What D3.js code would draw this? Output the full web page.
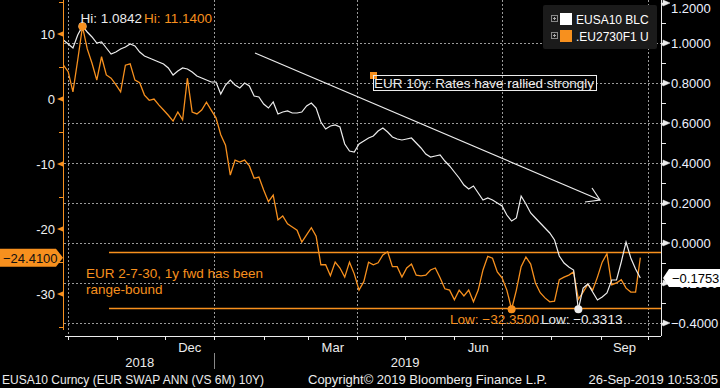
<!DOCTYPE html>
<meta charset="utf-8">
<style>
body { margin: 0; background: #000; }
svg { display: block; background: #000; }
text { font-family: "Liberation Sans", Arial, sans-serif; font-size: 13px; }
.grid { stroke: #9a9a9a; stroke-width: 1px; stroke-dasharray: 2,2; }
.note { font-size: 13.5px; }
.small { font-size: 12px; }
</style>
<svg width="720" height="388"></svg>
<script src="https://d3js.org/d3.v7.min.js"></script>
<script>

// EUSA10 BLC (right axis), one point every 3 days from 28-Sep-2018
var eusa10 = [
  1.015, 0.995, 0.975, 1.04, 1.0842, 1.055, 1.03, 1.00, 1.005, 0.975,
  0.945, 0.955, 0.97, 0.98, 0.995, 0.985, 0.955, 0.935, 0.925, 0.915,
  0.905, 0.895, 0.875, 0.84, 0.86, 0.875, 0.87, 0.855, 0.835, 0.825,
  0.815, 0.805, 0.805, 0.745, 0.79, 0.815, 0.79, 0.775, 0.80, 0.785,
  0.735, 0.73, 0.695, 0.675, 0.705, 0.645, 0.655, 0.66, 0.65, 0.65,
  0.655, 0.685, 0.70, 0.675, 0.605, 0.57, 0.585, 0.59, 0.58, 0.495,
  0.46, 0.455, 0.495, 0.51, 0.525, 0.535, 0.56, 0.575, 0.555, 0.53,
  0.52, 0.515, 0.52, 0.525, 0.50, 0.475, 0.445, 0.43, 0.435, 0.44,
  0.41, 0.385, 0.355, 0.325, 0.29, 0.27, 0.285, 0.25, 0.215, 0.225,
  0.215, 0.20, 0.185, 0.14, 0.11, 0.125, 0.235, 0.195, 0.15, 0.125,
  0.10, 0.075, 0.05, 0.015, -0.065, -0.10, -0.12, -0.135, -0.3313, -0.225,
  -0.205, -0.245, -0.285, -0.27, -0.25, -0.185, -0.185, -0.095, 0.005, -0.075,
  -0.13, -0.1753
];

// .EU2730F1 (left axis, bp)
var eu2730 = [
  5.2, 4.2, 1.1, 6.0, 11.14, 7.7, 5.5, 2.9, 6.5, 3.7,
  3.2, 2.2, 1.1, 5.2, 5.4, 2.9, 2.5, 0.6, -0.2, 0.0,
  -0.9, -1.7, -2.5, -3.4, -2.0, -3.2, 3.2, -2.0, -2.3, -1.7,
  -0.5, -1.7, -2.9, -5.5, -7.1, -11.7, -9.4, -9.7, -9.4, -10.3,
  -12.2, -12.0, -14.0, -15.8, -14.8, -18.6, -18.0, -19.2, -19.7, -20.2,
  -22.0, -20.9, -19.8, -21.1, -25.5, -25.5, -27.2, -25.1, -26.0, -27.4,
  -25.1, -26.9, -29.4, -28.1, -25.1, -25.5, -25.2, -24.0, -23.5, -25.8,
  -25.8, -27.4, -26.0, -25.4, -27.1, -27.2, -27.1, -26.3, -26.0, -27.5,
  -29.2, -29.4, -30.9, -29.4, -30.3, -29.4, -31.2, -29.4, -26.3, -24.2,
  -24.5, -26.6, -27.5, -29.4, -32.35, -29.4, -25.8, -24.3, -25.4, -28.3,
  -29.8, -30.6, -31.2, -31.1, -27.8, -27.4, -27.1, -26.6, -30.8, -29.7,
  -28.5, -29.4, -27.4, -25.1, -23.8, -28.6, -28.3, -27.8, -29.1, -29.7,
  -29.7, -24.41
];

var leftTicks = [10, 0, -10, -20, -30];
var leftMinor = [15, 5, -5, -15, -25, -35];
var rightTicks = [1.2, 1.0, 0.8, 0.6, 0.4, 0.2, 0.0, -0.2, -0.4];
var rightMinor = [1.1, 0.9, 0.7, 0.5, 0.3, 0.1, -0.1, -0.3];
var rangeBand = [-23.5, -32.1];
var monthLabels = ["Dec", "Mar", "Jun", "Sep"];
var yearLabels = ["2018", "2019"];

var orange = "#f7901e", white = "#ececec";

var svg = d3.select("svg"),
    left = 64, right = 661, top = 0, bottom = 336;

var start = new Date(2018, 8, 28);
var dates = eusa10.map(function(d, i) { return d3.timeDay.offset(start, 3 * i); });

var x = d3.scaleTime()
    .domain([new Date(2018, 8, 29), new Date(2019, 9, 9)])
    .range([65, right]);
var yL = d3.scaleLinear().domain([-30, 10]).range([294, 34]);
var yR = d3.scaleLinear().domain([-0.4, 1.2]).range([323, 3]);

// grid
var quarters = d3.timeMonth.every(3).range(new Date(2018, 9, 1), new Date(2019, 9, 2));
svg.selectAll(".vgrid").data(quarters).enter().append("line")
    .attr("class", "grid")
    .attr("x1", function(d) { return Math.round(x(d)) + 0.5; })
    .attr("x2", function(d) { return Math.round(x(d)) + 0.5; })
    .attr("y1", top).attr("y2", bottom);
svg.selectAll(".hgrid").data(rightTicks.filter(function(d) { return d < 1.1; })).enter().append("line")
    .attr("class", "grid")
    .attr("x1", left).attr("x2", right)
    .attr("y1", function(d) { return Math.round(yR(d)) + 0.5; })
    .attr("y2", function(d) { return Math.round(yR(d)) + 0.5; });

// range-bound lines
svg.selectAll(".band").data(rangeBand).enter().append("line")
    .attr("x1", 109).attr("x2", right)
    .attr("y1", function(d) { return Math.round(yL(d)) + 0.5; })
    .attr("y2", function(d) { return Math.round(yL(d)) + 0.5; })
    .attr("stroke", orange).attr("stroke-width", 1.5);

// series
var lineR = d3.line().x(function(d, i) { return x(dates[i]); }).y(function(d) { return yR(d); });
var lineL = d3.line().x(function(d, i) { return x(dates[i]); }).y(function(d) { return yL(d); });

svg.append("path").datum(eu2730)
    .attr("d", lineL).attr("fill", "none").attr("stroke", orange).attr("stroke-width", 1.3);
svg.append("path").datum(eusa10)
    .attr("d", lineR).attr("fill", "none").attr("stroke", white).attr("stroke-width", 1.2);

// hi / low markers
var hiW = d3.maxIndex(eusa10), loW = d3.minIndex(eusa10),
    hiO = d3.maxIndex(eu2730), loO = d3.minIndex(eu2730);
svg.append("circle").attr("cx", x(dates[hiW])).attr("cy", yR(eusa10[hiW])).attr("r", 4).attr("fill", white);
svg.append("circle").attr("cx", x(dates[hiO])).attr("cy", yL(eu2730[hiO])).attr("r", 4).attr("fill", orange);
svg.append("circle").attr("cx", x(dates[loW])).attr("cy", yR(eusa10[loW])).attr("r", 4).attr("fill", white);
svg.append("circle").attr("cx", x(dates[loO])).attr("cy", yL(eu2730[loO])).attr("r", 4).attr("fill", orange);

var hi = svg.append("text").attr("class", "note").attr("x", x(dates[hiW]) - 2).attr("y", 23);
hi.append("tspan").attr("fill", white).text("Hi: " + d3.format(".4f")(eusa10[hiW]));
hi.append("tspan").attr("fill", orange).attr("dx", 2).text("Hi: " + d3.format(".4f")(eu2730[hiO]));

var lo = svg.append("text").attr("class", "note").attr("x", 450).attr("y", 324);
lo.append("tspan").attr("fill", orange).text("Low: " + d3.format(".4f")(eu2730[loO]));
lo.append("tspan").attr("fill", white).attr("dx", 2).text("Low: " + d3.format(".4f")(eusa10[loW]));

// annotations
svg.append("line").attr("x1", 255).attr("y1", 53).attr("x2", 600).attr("y2", 200)
    .attr("stroke", white).attr("stroke-width", 1.2);
svg.append("path").attr("d", "M585,202L600,200L592,188")
    .attr("fill", "none").attr("stroke", white).attr("stroke-width", 1.2);

svg.append("rect").attr("x", 370).attr("y", 72).attr("width", 7).attr("height", 7).attr("fill", orange);
svg.append("rect").attr("x", 373.5).attr("y", 75.5).attr("width", 223).attr("height", 15)
    .attr("fill", "none").attr("stroke", white).attr("stroke-width", 1);
svg.append("text").attr("class", "note").attr("x", 374).attr("y", 88).attr("fill", white)
    .attr("textLength", 220).attr("lengthAdjust", "spacingAndGlyphs")
    .text("EUR 10y: Rates have rallied strongly");

svg.append("text").attr("class", "note").attr("x", 86).attr("y", 278).attr("fill", orange).text("EUR 2-7-30, 1y fwd has been");
svg.append("text").attr("class", "note").attr("x", 86).attr("y", 294).attr("fill", orange).text("range-bound");

// left axis
svg.append("line").attr("x1", left - 0.5).attr("x2", left - 0.5).attr("y1", 0).attr("y2", 330)
    .attr("stroke", orange).attr("stroke-width", 1);
svg.selectAll(".lminor").data(leftMinor).enter().append("line")
    .attr("x1", left - 5).attr("x2", left)
    .attr("y1", function(d) { return Math.round(yL(d)) + 0.5; })
    .attr("y2", function(d) { return Math.round(yL(d)) + 0.5; })
    .attr("stroke", orange);
svg.selectAll(".ltick").data(leftTicks).enter().append("path")
    .attr("d", function(d) { var y = yL(d); return "M" + left + "," + (y - 3) + "L" + (left - 7) + "," + y + "L" + left + "," + (y + 3) + "Z"; })
    .attr("fill", orange);
svg.selectAll(".llabel").data(leftTicks).enter().append("text")
    .attr("x", left - 9).attr("y", function(d) { return yL(d) + 5; })
    .attr("text-anchor", "end").attr("fill", "#f0f0f0")
    .text(function(d) { return d; });

// right axis
svg.append("line").attr("x1", right + 0.5).attr("x2", right + 0.5).attr("y1", 0).attr("y2", bottom)
    .attr("stroke", white);
svg.selectAll(".rminor").data(rightMinor).enter().append("line")
    .attr("x1", right).attr("x2", right + 5)
    .attr("y1", function(d) { return Math.round(yR(d)) + 0.5; })
    .attr("y2", function(d) { return Math.round(yR(d)) + 0.5; })
    .attr("stroke", white);
svg.selectAll(".rtick").data(rightTicks).enter().append("path")
    .attr("d", function(d) { var y = yR(d); return "M" + right + "," + y + "L" + (right + 2) + "," + y + "L" + (right + 2) + "," + (y - 3) + "L" + (right + 9) + "," + y + "L" + (right + 2) + "," + (y + 3) + "Z"; })
    .attr("fill", white).attr("stroke", white).attr("stroke-width", 0.5);
svg.selectAll(".rlabel").data(rightTicks).enter().append("text")
    .attr("x", right + 10).attr("y", function(d) { return Math.max(yR(d) + 5, 13); })
    .attr("fill", "#eef2ff")
    .text(function(d) { return d3.format(".4f")(d); });

// last value tags
var lastR = eusa10[eusa10.length - 1], lastL = eu2730[eu2730.length - 1];
var ty = yR(lastR);
svg.append("path")
    .attr("d", "M" + (right + 2) + "," + ty + "L" + (right + 8) + "," + (ty - 9) + "L720," + (ty - 9) + "L720," + (ty + 9) + "L" + (right + 8) + "," + (ty + 9) + "Z")
    .attr("fill", "#fff");
svg.append("text").attr("x", right + 11).attr("y", ty + 5).attr("fill", "#000")
    .text(d3.format(".4f")(lastR));
var tl = yL(lastL);
svg.append("path")
    .attr("d", "M0," + (tl - 9) + "L56," + (tl - 9) + "L63," + tl + "L56," + (tl + 9) + "L0," + (tl + 9) + "Z")
    .attr("fill", orange);
svg.append("text").attr("x", 3).attr("y", tl + 5).attr("fill", "#111")
    .text(d3.format(".4f")(lastL));

// x axis
svg.append("line").attr("x1", 65).attr("x2", right).attr("y1", bottom + 0.5).attr("y2", bottom + 0.5)
    .attr("stroke", white);
var months = d3.timeMonth.range(new Date(2018, 9, 1), new Date(2019, 9, 2));
svg.selectAll(".xtick").data(months).enter().append("line")
    .attr("x1", function(d) { return Math.round(x(d)) + 0.5; })
    .attr("x2", function(d) { return Math.round(x(d)) + 0.5; })
    .attr("y1", bottom).attr("y2", bottom + 4)
    .attr("stroke", white);
var labelMonths = [new Date(2018, 11, 1), new Date(2019, 2, 1), new Date(2019, 5, 1), new Date(2019, 8, 1)];
svg.selectAll(".xlabel").data(labelMonths).enter().append("text")
    .attr("x", function(d) { return (x(d) + x(d3.timeMonth.offset(d, 1))) / 2; })
    .attr("y", 352).attr("text-anchor", "middle").attr("fill", white)
    .text(function(d, i) { return monthLabels[i]; });
svg.selectAll(".ylabel").data([new Date(2018, 10, 15), new Date(2019, 4, 1)]).enter().append("text")
    .attr("x", function(d) { return x(d); })
    .attr("y", 367).attr("text-anchor", "middle").attr("fill", white)
    .text(function(d, i) { return yearLabels[i]; });
svg.append("line").attr("x1", Math.round(x(new Date(2019, 0, 1))) + 0.5).attr("x2", Math.round(x(new Date(2019, 0, 1))) + 0.5)
    .attr("y1", 353).attr("y2", 369).attr("stroke", "#888");

// legend
var legend = svg.append("g").attr("transform", "translate(543,5)");
legend.append("rect").attr("width", 114).attr("height", 44).attr("rx", 2).attr("fill", "#1b1b1b");
[["EUSA10 BLC", "#fff"], [".EU2730F1 U", orange]].forEach(function(d, i) {
  var g = legend.append("g").attr("transform", "translate(0," + (9 + i * 17) + ")");
  g.append("rect").attr("x", 8.5).attr("y", 1.5).attr("width", 6).attr("height", 6).attr("fill", "none").attr("stroke", "#888");
  g.append("path").attr("d", "M10,4.5h3M11.5,3v3").attr("stroke", "#aaa");
  g.append("rect").attr("x", 17).attr("y", -1).attr("width", 12).attr("height", 12).attr("fill", d[1]);
  g.append("text").attr("class", "small").attr("x", 33).attr("y", 10).attr("fill", "#fff").text(d[0]);
});

// footer
svg.append("text").attr("class", "small").attr("x", 2).attr("y", 384).attr("fill", white).text("EUSA10 Curncy (EUR SWAP ANN (VS 6M) 10Y)");
svg.append("text").attr("x", 308).attr("y", 384).attr("fill", white).text("Copyright\u00a9 2019 Bloomberg Finance L.P.");
svg.append("text").attr("x", 718).attr("y", 384).attr("text-anchor", "end").attr("fill", white).text("26-Sep-2019 10:53:05");

</script>
